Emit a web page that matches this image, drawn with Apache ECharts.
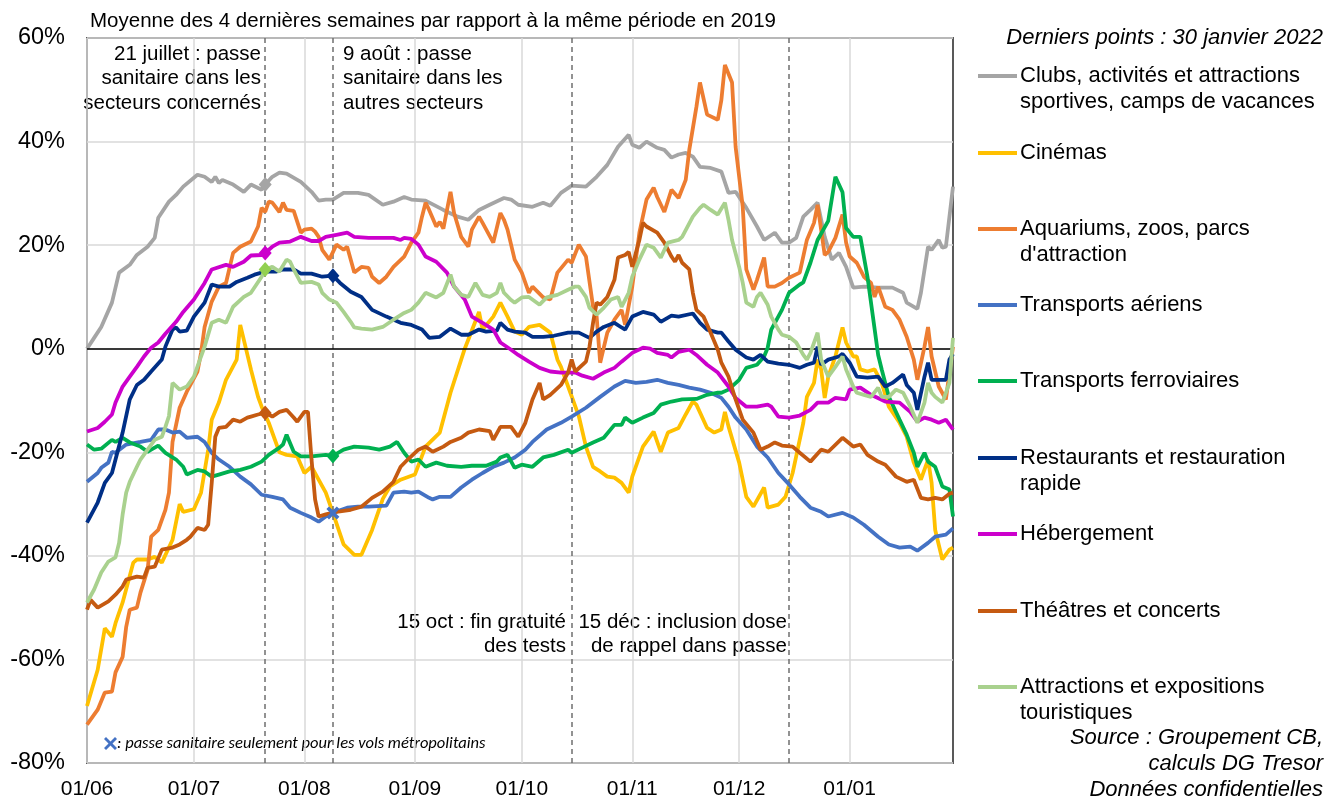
<!DOCTYPE html>
<html>
<head>
<meta charset="utf-8">
<script src="https://cdn.jsdelivr.net/npm/echarts@6/dist/echarts.min.js"></script>
<style>
  html, body { margin: 0; padding: 0; background: #ffffff; }
  #chart { width: 1327px; height: 801px; }
</style>
</head>
<body>
<div id="chart"></div>
<script>
// x values are days counted from 1 June 2021 (day 0) to 30 January 2022 (day 243)
const monthTicks = [0, 30, 61, 92, 122, 153, 183, 214];
const monthLabels = ['01/06', '01/07', '01/08', '01/09', '01/10', '01/11', '01/12', '01/01'];
const eventDays = [50, 69, 136, 197];          // 21 juillet, 9 août, 15 oct, 15 déc
const yTicks = [-80, -60, -40, -20, 0, 20, 40, 60];

// Moyenne 4 semaines, écart en % à 2019 : [jour, valeur]
const clubs = [[0,0],[2,2.1],[4,4.2],[7,8.9],[9,14.7],[12,16.2],[14,18.1],[17,19.7],[19,21.4],[20,25.3],[23,28.4],[25,29.7],[27,31.3],[31,33.6],[33,33.2],[35,32.2],[36,33.2],[37,32],[38,32.6],[41,31.7],[44,30.3],[46,31.7],[49,30.7],[50,31.7],[52,33.2],[54,34],[56,33.8],[60,32.2],[63,30.3],[65,28.6],[67,28.8],[69,28.8],[72,30.1],[76,30.1],[79,29.7],[83,27.8],[86,28.4],[89,29.3],[91,28.8],[95,28.6],[100,26.8],[104,25.5],[107,24.9],[110,26.8],[113,27.8],[117,29.1],[119,28.8],[121,27.8],[125,27.4],[128,28.2],[130,27.6],[133,30.1],[136,31.5],[140,31.3],[143,33.2],[146,35.5],[149,39],[152,41.3],[153,39.4],[155,38.8],[157,40],[160,38.8],[162,38.4],[164,36.9],[166,37.5],[168,37.8],[170,37.1],[172,35.1],[175,34.9],[178,34.2],[180,30.1],[182,30.3],[185,27.2],[188,23.6],[190,21],[193,22.4],[195,20.5],[197,20.5],[199,21.4],[201,25.5],[203,26.8],[205,28.2],[207,21.6],[209,17.2],[211,18.5],[213,15.8],[215,11.8],[218,12],[222,11.8],[226,11.8],[229,10.8],[230,8.9],[233,7.7],[234,10.8],[236,19.7],[237,19.1],[239,21],[240,19.5],[241,19.7],[243,31.3]];

const cinemas = [[0,-69],[3,-62],[5,-54],[7,-55.6],[8,-53],[10,-49],[13,-41.3],[14,-40.7],[17,-40.7],[19,-40.2],[21,-41.3],[24,-36.9],[26,-30],[27,-31.5],[30,-31],[32,-27.8],[34,-19.5],[35,-13.7],[37,-10.4],[39,-6],[42,-2.1],[43,4.6],[46,-4],[48,-9.3],[49,-11.2],[51,-14.3],[54,-20],[56,-20.5],[59,-20.8],[61,-24],[63,-22.8],[67,-27.8],[69,-31.7],[72,-37.8],[75,-39.8],[77,-39.8],[80,-35],[83,-29],[85,-26.6],[88,-25.3],[92,-24.3],[95,-18.9],[99,-16.2],[102,-8.5],[105,-2.1],[106,0],[110,7.1],[111,3.7],[114,6.2],[116,8.9],[118,6.2],[120,3.3],[122,2.7],[124,4.2],[127,4.6],[130,3.1],[132,-2.1],[133,-3.5],[135,-7.3],[138,-13],[140,-18.9],[142,-22.8],[144,-23.7],[146,-24.7],[148,-24.9],[150,-25.9],[152,-27.8],[153,-24.7],[156,-18.9],[159,-16],[161,-19.9],[163,-16.2],[166,-15.3],[168,-12.7],[170,-10.2],[171,-10.8],[174,-15.3],[176,-16.2],[178,-15.6],[179,-12.2],[180,-15],[183,-22],[185,-28.6],[187,-30.5],[190,-26.8],[191,-30.7],[194,-30.1],[196,-28.6],[198,-24],[199,-20.8],[201,-14.3],[202,-9.3],[204,-6.6],[205,-2.1],[206,-4],[207,-9.5],[208,-5.4],[210,-1.5],[212,4.1],[213,1.2],[215,-1.5],[216,-1.5],[217,-4],[219,-4.4],[221,-4],[223,-6.6],[225,-11.2],[228,-14.3],[230,-17],[232,-22],[234,-25.3],[236,-21.4],[237,-25.9],[238,-35],[240,-40.7],[242,-38.8],[243,-38.4]];

const aquariums = [[0,-72.6],[3,-69.7],[5,-66.4],[7,-66.2],[8,-62.5],[10,-59.5],[11,-53.7],[12,-50.4],[14,-50],[15,-47.1],[17,-42.7],[18,-36.3],[20,-35],[22,-31.1],[23,-27.8],[24,-18],[26,-11.4],[28,-8.3],[31,-4.4],[32,-0.8],[33,4.2],[35,9.1],[37,12],[39,12.7],[41,18.5],[43,19.7],[46,20.7],[48,23.6],[49,27.2],[50,26.4],[51,28.4],[52,28.2],[54,26.4],[55,28.2],[56,26.8],[58,26.6],[60,22.4],[61,23],[63,23.2],[64,22.6],[65,21.6],[66,19.1],[68,17.2],[70,20.1],[72,19.1],[73,19.7],[75,14.7],[77,15.8],[79,15.6],[80,13.9],[82,12.7],[84,13.9],[86,15.8],[89,17.8],[91,20.5],[93,22.4],[94,25.5],[95,28.2],[96,26.8],[98,23.6],[99,24.5],[100,23.2],[102,30.3],[103,26.2],[105,21.6],[107,19.7],[108,23],[110,25.5],[111,24.3],[114,20.5],[116,26.2],[117,24.9],[118,23],[120,17.2],[122,14.7],[124,10.8],[125,12],[128,9.9],[130,9.5],[132,14.7],[135,17.2],[136,16.6],[138,20.1],[140,17.8],[142,8.1],[143,6.2],[144,-2.7],[146,3.1],[148,5.6],[150,7.5],[151,4.6],[153,12],[155,22.4],[157,28.8],[159,31.1],[160,29.3],[162,26.4],[164,30.7],[166,29.1],[168,32.6],[169,38.4],[171,46.7],[172,51.4],[174,45.2],[177,44.2],[178,48],[179,54.8],[181,51.4],[182,39],[184,27.4],[185,15.3],[187,11.4],[188,13.3],[190,17.6],[191,12],[193,12],[195,12.7],[197,13.7],[200,14.7],[202,21],[204,24.3],[205,27.8],[207,18.1],[208,18.7],[210,21.4],[212,25.9],[213,20.5],[214,17.8],[216,16.6],[218,13.9],[220,12.7],[221,10],[222,12],[224,8.1],[226,7.5],[228,5.6],[230,2.3],[232,-2.1],[233,-6],[235,0.4],[236,4.2],[237,-1.5],[239,-7.3],[241,-9.8],[242,-4.6],[243,0.4]];

const aeriens = [[0,-25.7],[3,-24],[4,-23],[6,-22],[7,-19.9],[8,-20.1],[11,-18.5],[15,-18],[18,-17.6],[20,-15.6],[22,-15.6],[24,-16.2],[26,-16],[28,-17.2],[31,-17],[33,-18],[35,-20.1],[37,-21.4],[40,-22.8],[43,-24.7],[46,-26.2],[49,-28.2],[52,-28.6],[55,-29.1],[57,-30.7],[60,-31.7],[63,-32.6],[65,-33.4],[67,-32.4],[69,-31.7],[73,-30.7],[76,-30.5],[79,-30.5],[84,-30.3],[86,-27.8],[89,-27.6],[91,-27.8],[93,-27.6],[96,-28.8],[97,-29.1],[99,-28.6],[102,-28.6],[105,-26.8],[108,-25.3],[111,-24],[114,-22.8],[117,-22],[120,-21],[123,-19.5],[125,-18],[129,-15.6],[133,-14.3],[136,-13.1],[140,-11.4],[144,-9.3],[148,-7.3],[151,-6.2],[154,-6.6],[157,-6.4],[160,-6],[163,-6.6],[166,-7],[169,-7.5],[172,-7.9],[175,-8.5],[178,-9.5],[180,-11.2],[182,-13.3],[185,-15.6],[188,-18.9],[191,-21],[194,-24],[197,-26.2],[200,-28.6],[203,-30.7],[206,-31.5],[208,-32.4],[212,-31.7],[215,-32.6],[218,-34],[222,-36.3],[225,-37.8],[228,-38.4],[231,-38.2],[233,-39],[236,-37.5],[238,-36.3],[241,-35.9],[243,-34.7]];

const ferroviaires = [[0,-18.5],[2,-19.5],[4,-19.3],[7,-17.6],[8,-18],[10,-17.2],[12,-18.1],[15,-18.9],[17,-19.9],[18,-19.5],[20,-18.7],[22,-20.1],[25,-21.4],[27,-22.8],[28,-24.3],[31,-23.4],[33,-23.7],[35,-24.7],[37,-24.3],[40,-23.7],[43,-23.4],[46,-22.8],[49,-21.8],[51,-20.5],[54,-19.1],[55,-18.5],[56,-16.6],[58,-19.9],[60,-20.8],[63,-20.8],[67,-20.5],[69,-20.7],[72,-19.5],[75,-18.9],[79,-19.1],[82,-19.5],[85,-18.9],[87,-18],[89,-20.1],[91,-21.8],[93,-21.4],[95,-22.8],[98,-22],[101,-22.6],[105,-22.8],[108,-22.6],[112,-22.6],[115,-21.8],[116,-21],[118,-20.5],[120,-23],[122,-22.4],[125,-22.8],[128,-21],[131,-20.5],[135,-19.5],[136,-20.1],[139,-19.1],[142,-18.1],[145,-17.2],[148,-14.7],[150,-14.7],[151,-13.3],[153,-14.3],[156,-13.3],[159,-12.4],[161,-10.8],[164,-10.2],[167,-9.8],[171,-9.7],[174,-8.9],[177,-8.5],[178,-8.5],[180,-7.9],[183,-6],[185,-3.7],[188,-3.1],[190,-1.5],[191,0.2],[192,3.7],[195,7.5],[197,10.8],[200,12.4],[201,12.8],[203,16.6],[205,21],[208,24.7],[210,33.2],[212,30.2],[213,23.3],[215,21.6],[217,21.6],[219,13.9],[222,-1.2],[223,-4],[225,-9.3],[228,-13.7],[230,-16.6],[232,-20.1],[233,-22.8],[235,-20.1],[236,-21.8],[238,-22.8],[240,-26.6],[242,-27.2],[243,-32.4]];

const restaurants = [[0,-33.6],[3,-29.7],[5,-25.9],[7,-24],[8,-21.4],[10,-16.2],[12,-9.8],[14,-7],[16,-6],[18,-4.4],[21,-2.1],[22,0.4],[24,3.7],[25,4.1],[26,3.3],[28,3.5],[30,6.2],[33,8.9],[35,12.4],[37,12],[40,12],[42,12.9],[45,13.7],[47,14.3],[49,14.7],[51,14.9],[53,14.9],[55,15.3],[58,15.3],[60,14.5],[63,14.5],[66,13.9],[69,14.1],[71,12.7],[74,11],[77,10],[80,7.5],[84,6.2],[88,5],[91,4.6],[94,3.7],[96,2.1],[99,2.3],[102,3.9],[105,2.7],[107,2.7],[110,3.7],[112,3.3],[115,3.5],[116,5],[118,3.7],[120,3.3],[123,3.1],[125,2.3],[128,2.3],[131,2.5],[135,3.1],[138,3.1],[141,2.1],[143,3.3],[145,4.2],[148,5],[150,4.1],[151,3.7],[153,6.2],[156,7.1],[159,6.6],[161,5.2],[164,6.4],[166,6.2],[170,6.8],[172,5],[174,3.7],[177,3.1],[178,3.1],[180,1.4],[182,-0.2],[185,-1.7],[187,-2.1],[189,-1.2],[191,-2.5],[194,-2.9],[197,-3.1],[200,-3.7],[202,-3.1],[204,-2.7],[205,0.4],[206,-3.1],[208,-2.1],[211,-1.5],[212,-1],[214,-2.7],[216,-5.4],[219,-5.6],[222,-5.4],[224,-7.3],[226,-6.6],[229,-5],[230,-7],[232,-8.5],[233,-11.8],[235,-5.4],[236,-2.7],[237,-6],[239,-6],[241,-6],[242,-2.1],[243,-1]];

const hebergement = [[0,-16],[3,-15.3],[5,-14.1],[7,-12.7],[8,-10.4],[10,-7.3],[12,-5.4],[14,-3.5],[16,-1.5],[18,0.2],[20,1.2],[22,2.9],[25,5.2],[27,7.1],[30,9.5],[33,12.7],[35,15.3],[39,16.2],[41,15.8],[44,16.8],[46,18],[49,18.1],[50,18.5],[52,19.7],[54,20.5],[57,20.7],[60,21.6],[63,20.8],[65,20.8],[67,21.6],[70,22],[73,22.4],[75,21.6],[79,21.4],[82,21.4],[86,21.4],[88,21],[89,21.4],[91,21.2],[93,20.1],[95,17.8],[98,16.8],[101,14.7],[103,12],[106,9.5],[108,6.2],[111,5],[114,3.7],[116,1.2],[119,-0.2],[121,-1.2],[124,-2.5],[127,-3.7],[130,-4.4],[133,-4.6],[137,-4.6],[139,-5.2],[142,-5.8],[145,-4.6],[148,-3.7],[150,-2.5],[153,-0.8],[156,0.2],[158,0],[160,-0.8],[163,-1.2],[164,-1.7],[166,-0.6],[169,-0.2],[171,-1.2],[174,-3.1],[177,-4.6],[180,-7.3],[182,-9.5],[185,-11.2],[188,-11.2],[191,-10.8],[192,-11.2],[194,-13.1],[197,-13.3],[200,-12.9],[203,-11.8],[205,-10.4],[208,-10.4],[210,-9.5],[213,-9.8],[214,-7.9],[217,-7.5],[220,-8.9],[224,-10.2],[228,-10.4],[231,-12.2],[233,-14.1],[235,-13.3],[237,-13.7],[239,-14.3],[241,-13.7],[243,-15.6]];

const theatres = [[0,-50.4],[1,-48.5],[3,-50],[6,-48.8],[8,-47.5],[10,-45.9],[11,-44.6],[14,-44],[16,-44.2],[17,-42.3],[19,-42.1],[21,-38.8],[24,-38.4],[26,-37.8],[28,-36.9],[29,-36.3],[31,-34.6],[33,-35],[34,-34],[35,-25.9],[36,-17],[37,-15.3],[39,-15.1],[41,-13.7],[43,-14.1],[45,-13.3],[46,-13.1],[48,-12.7],[50,-12.4],[52,-13.1],[54,-12.2],[56,-11.8],[58,-13.3],[59,-14.1],[61,-12.2],[62,-12.2],[63,-21.4],[64,-29.1],[65,-32.4],[67,-32],[70,-31.5],[74,-31.1],[77,-30.5],[80,-28.8],[83,-27.6],[86,-25.7],[88,-22.8],[90,-21.4],[93,-19.5],[95,-18.9],[97,-19.9],[100,-18.9],[102,-18],[105,-17.2],[107,-16.2],[110,-15.6],[113,-15.9],[114,-17.6],[116,-15.1],[119,-15.1],[121,-17],[123,-14.3],[125,-9.8],[127,-6.6],[128,-9.8],[130,-8.9],[133,-7],[135,-4.6],[136,-2.1],[137,-4.4],[140,-2.5],[141,0.4],[142,5],[143,8.9],[144,8.5],[146,10],[148,13.3],[149,17.6],[151,18.1],[152,18.7],[153,15.8],[154,18.5],[155,21],[156,24.3],[157,23.6],[160,22.4],[162,20.5],[164,17.8],[165,16.8],[166,18.1],[167,16.6],[169,15.3],[170,10.8],[171,7.5],[173,6.2],[175,3.1],[177,-0.2],[178,-2.7],[180,-5.4],[182,-9.8],[184,-13.7],[187,-16.2],[189,-19.5],[191,-18.9],[193,-18.1],[195,-18.7],[198,-18.9],[200,-20.1],[203,-21.8],[206,-19.5],[208,-19.9],[212,-17.2],[215,-18.9],[217,-18.5],[219,-20.5],[222,-21.8],[224,-22.4],[227,-24.7],[230,-25.7],[232,-25.3],[234,-28.8],[236,-29.1],[238,-28.8],[240,-29.1],[242,-28],[243,-27.8]];

const attractions = [[0,-49],[2,-46.5],[4,-43.2],[6,-41.1],[8,-40.3],[9,-37.5],[10,-32],[11,-27.8],[12,-25.7],[14,-22.8],[15,-21.4],[17,-19.5],[19,-17.6],[21,-17],[22,-15.1],[23,-13],[24,-6.6],[26,-7.9],[28,-7.3],[30,-5.4],[32,-1.5],[33,0.4],[35,5],[37,5.6],[39,5],[41,8.1],[44,10],[46,10.8],[49,13.9],[50,15.3],[52,15.8],[54,14.9],[56,17.2],[57,16.8],[58,15.3],[60,12.7],[63,12.9],[65,12.4],[66,10.8],[68,9.5],[70,8.9],[72,7.1],[74,5.2],[75,4.1],[77,3.9],[80,3.7],[83,4.2],[86,5.6],[89,6.9],[91,7.5],[93,8.9],[95,10.8],[98,9.9],[100,10.8],[102,14.3],[103,12],[105,10.4],[107,10],[109,12.7],[111,10.4],[113,10],[115,10.8],[116,12.7],[117,10.8],[119,9.4],[120,8.9],[122,9.9],[124,10],[127,8.5],[129,9.9],[132,10.4],[135,11.4],[137,12],[138,12],[140,10],[141,7.9],[143,6.6],[145,7.9],[147,9.5],[149,10],[150,8.1],[152,10.8],[153,13.9],[155,17.2],[157,20.1],[159,19.5],[161,17.6],[163,20.5],[166,21],[167,21.6],[170,25.5],[172,27.2],[173,27.8],[175,26.8],[177,25.9],[179,28.2],[180,24.9],[181,21],[183,15.8],[184,12.7],[185,8.9],[187,8.1],[188,10],[189,10.8],[191,8.5],[192,6.2],[194,3.7],[195,2.7],[197,2.3],[199,1.2],[201,-1.2],[202,-2.1],[203,-0.8],[205,3.1],[206,-2.1],[208,-5.4],[210,-3.5],[212,-1.5],[213,-4],[215,-7.3],[216,-8.5],[218,-8.9],[220,-9.3],[222,-7.5],[223,-9.3],[225,-9.3],[227,-7.9],[229,-8.5],[231,-11.2],[233,-14.3],[235,-10.4],[236,-6.6],[237,-8.5],[238,-9.3],[240,-10.4],[242,-6.6],[243,2.1]];

const seriesNames = [
  'Clubs, activités et attractions sportives, camps de vacances',
  'Cinémas',
  'Aquariums, zoos, parcs d\'attraction',
  'Transports aériens',
  'Transports ferroviaires',
  'Restaurants et restauration rapide',
  'Hébergement',
  'Théâtres et concerts',
  'Attractions et expositions touristiques'
];
const legendLabels = [
  'Clubs, activités et attractions\nsportives, camps de vacances',
  'Cinémas',
  'Aquariums, zoos, parcs\nd\'attraction',
  'Transports aériens',
  'Transports ferroviaires',
  'Restaurants et restauration\nrapide',
  'Hébergement',
  'Théâtres et concerts',
  'Attractions et expositions\ntouristiques'
];
const seriesData = [clubs, cinemas, aquariums, aeriens, ferroviaires, restaurants, hebergement, theatres, attractions];
const seriesColors = ['#A5A5A5', '#FFC000', '#ED7D31', '#4472C4', '#00B050', '#002F86', '#CC00CC', '#C55A11', '#A9D18E'];

// Day of the pass extension marked on each sector (null = no marker)
const markerDay = [50, null, null, 69, 69, 69, 50, 50, 50];
const markerShape = ['diamond', null, null, 'cross', 'diamond', 'diamond', 'diamond', 'diamond', 'diamond'];
const markerColor = ['#A5A5A5', null, null, '#4472C4', '#00B050', '#002F86', '#CC00CC', '#C55A11', '#92D050'];

const FONT = '"Liberation Sans", Arial, sans-serif';
const CROSS = 'path://M2,0 L5,3 L8,0 L10,2 L7,5 L10,8 L8,10 L5,7 L2,10 L0,8 L3,5 L0,2 Z';

function valueAt(data, day) {
  const p = data.find(d => d[0] === day);
  return p ? p[1] : null;
}

const chart = echarts.init(document.getElementById('chart'), null, { renderer: 'canvas' });

const series = seriesData.map((data, i) => {
  const s = {
    name: seriesNames[i],
    type: 'line',
    data: data,
    symbol: 'none',
    showSymbol: false,
    lineStyle: { width: 3.8, color: seriesColors[i] },
    itemStyle: { color: seriesColors[i] },
    z: 3 + i,
    animation: false
  };
  if (markerDay[i] !== null) {
    const isCross = markerShape[i] === 'cross';
    s.markPoint = {
      symbol: isCross ? CROSS : 'diamond',
      symbolSize: isCross ? [13, 13] : [13, 15],
      label: { show: false },
      itemStyle: { color: markerColor[i] },
      z: 20,
      data: [{ coord: [markerDay[i], valueAt(data, markerDay[i])] }],
      animation: false
    };
  }
  return s;
});

// Event dates (dashed) and the zero line, on a helper series
series.unshift({
  type: 'line',
  data: [],
  silent: true,
  z: 2,
  markLine: {
    silent: true,
    symbol: 'none',
    label: { show: false },
    animation: false,
    data: [
      ...eventDays.map(d => ({ xAxis: d, lineStyle: { type: [5, 4], color: '#6F6F6F', width: 1.5 } })),
      { yAxis: 0, lineStyle: { type: 'solid', color: '#000000', width: 1.5 } }
    ]
  }
});

const legendY = [76, 153, 229, 305, 381, 458, 534, 611, 687];
const legendGraphics = [];
legendLabels.forEach((label, i) => {
  legendGraphics.push({
    type: 'line',
    shape: { x1: 978, y1: legendY[i], x2: 1017, y2: legendY[i] },
    style: { stroke: seriesColors[i], lineWidth: 4 }
  });
  legendGraphics.push({
    type: 'text',
    x: 1020, y: legendY[i] - 13,
    style: { text: label, font: '22px ' + FONT, fill: '#000', lineHeight: 26, verticalAlign: 'top', align: 'left' }
  });
});

function annotation(text, x, y, align) {
  return {
    type: 'text', x: x, y: y,
    style: { text: text, font: '20.5px ' + FONT, fill: '#000', lineHeight: 24.5, verticalAlign: 'top', align: align }
  };
}

const option = {
  backgroundColor: '#ffffff',
  animation: false,
  grid: {
    left: 87, top: 38, width: 866, height: 725,
    show: true, borderColor: '#595959', borderWidth: 2,
    containLabel: false
  },
  xAxis: {
    type: 'value',
    min: 0, max: 243,
    axisLine: { show: false },
    axisTick: { show: false, customValues: monthTicks },
    axisLabel: {
      customValues: monthTicks,
      formatter: v => monthLabels[monthTicks.indexOf(v)] || '',
      fontFamily: FONT, fontSize: 21, color: '#000', margin: 16
    },
    splitLine: { show: true, lineStyle: { color: '#D9D9D9', width: 1.5 } }
  },
  yAxis: {
    type: 'value',
    min: -80, max: 60, interval: 20,
    axisLine: { show: false },
    axisTick: { show: false },
    axisLabel: {
      formatter: v => v + '%',
      fontFamily: FONT, fontSize: 23.5, color: '#000', margin: 22
    },
    splitLine: { show: true, lineStyle: { color: '#D9D9D9', width: 1.5 } }
  },
  series: series,
  graphic: [
    {
      type: 'text', x: 90, y: 21,
      style: { text: 'Moyenne des 4 dernières semaines par rapport à la même période en 2019',
               font: '20.5px ' + FONT, fill: '#000', verticalAlign: 'middle', align: 'left' }
    },
    {
      type: 'text', x: 1323, y: 38,
      style: { text: 'Derniers points : 30 janvier 2022', font: 'italic 22px ' + FONT,
               fill: '#000', verticalAlign: 'middle', align: 'right' }
    },
    annotation('21 juillet : passe\nsanitaire dans les\nsecteurs concernés', 261, 42, 'right'),
    annotation('9 août : passe\nsanitaire dans les\nautres secteurs', 343, 42, 'left'),
    annotation('15 oct : fin gratuité\ndes tests', 566, 610, 'right'),
    annotation('15 déc : inclusion dose\nde rappel dans passe', 787, 610, 'right'),
    {
      type: 'polygon',
      shape: { points: [[106,737],[110.5,741.5],[115,737],[117,739],[112.5,743.5],[117,748],[115,750],[110.5,745.5],[106,750],[104,748],[108.5,743.5],[104,739]] },
      style: { fill: '#4472C4' }
    },
    {
      type: 'text', x: 117, y: 744,
      style: { text: ': passe sanitaire seulement pour les vols métropolitains',
               font: 'italic 16.5px Carlito, Lato, "Open Sans", sans-serif', fill: '#000', verticalAlign: 'middle', align: 'left' }
    },
    {
      type: 'text', x: 1323, y: 725,
      style: { text: 'Source : Groupement CB,\ncalculs DG Tresor\nDonnées confidentielles',
               font: 'italic 22px ' + FONT, fill: '#000', lineHeight: 26, verticalAlign: 'top', align: 'right' }
    },
    ...legendGraphics
  ]
};

chart.setOption(option);
</script>
</body>
</html>
